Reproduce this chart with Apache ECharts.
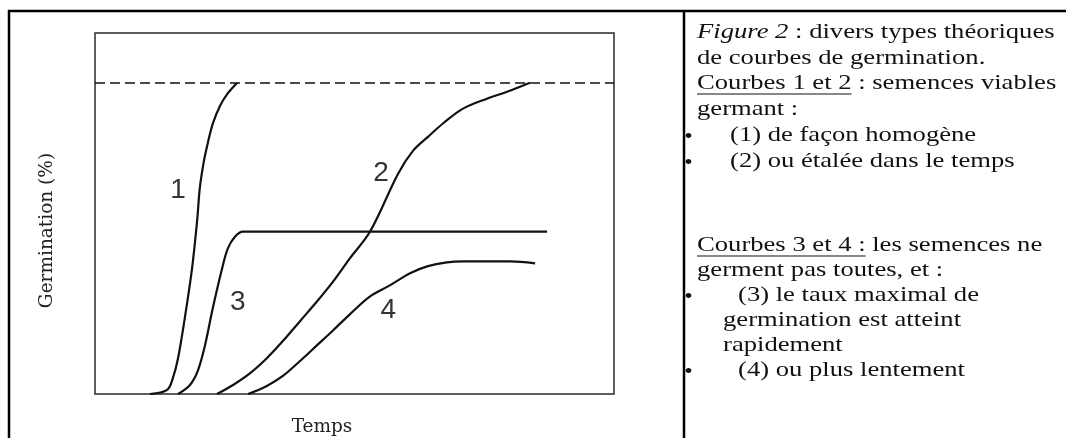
<!DOCTYPE html>
<html>
<head>
<meta charset="utf-8">
<title>Courbes de germination</title>
<script src="https://cdn.jsdelivr.net/npm/echarts@6/dist/echarts.min.js"></script>
<style>
  html, body { margin: 0; padding: 0; background: #fff; }
  #main { width: 1066px; height: 438px; }
</style>
</head>
<body>
<div id="main"></div>
<script>
// courbe 1 : germination homogene
var temps1 = [10.6, 13.9, 15.0, 16.0, 17.3, 18.7, 19.7, 20.2, 21.0, 21.8, 22.7, 24.1, 25.4, 27.4];
var germ1  = [0, 1.3, 5.1, 11.5, 24.4, 40.4, 56.1, 66.3, 75.0, 81.1, 86.9, 92.6, 96.2, 100];
// courbe 2 : germination etalee
var temps2 = [23.5, 26.6, 29.9, 33.1, 36.2, 39.5, 42.8, 45.9, 49.1, 53.0, 58.4, 61.3, 64.2, 67.1, 70.9, 75.5, 79.4, 83.8];
var germ2  = [0, 2.9, 6.7, 11.5, 17.0, 23.4, 29.8, 36.2, 43.6, 52.2, 70.8, 78.2, 82.7, 87.0, 91.7, 94.9, 97.1, 100];
// courbe 3 : plateau atteint vite
var temps3 = [16.0, 18.3, 19.8, 21.2, 22.7, 24.5, 25.6, 27.0, 28.5, 30.4, 87.1];
var germ3  = [0, 2.9, 7.4, 15.7, 27.6, 40.4, 46.8, 50.6, 52.2, 52.2, 52.2];
// courbe 4 : plateau atteint lentement
var temps4 = [29.5, 33.1, 36.2, 39.5, 42.8, 45.9, 49.1, 53.0, 56.8, 60.7, 64.0, 67.8, 70.9, 80.0, 84.8];
var germ4  = [0, 2.6, 5.8, 10.6, 15.7, 20.5, 25.6, 31.4, 34.9, 38.8, 41.0, 42.3, 42.6, 42.6, 42.0];

// numeros des courbes
var numNames = ['1', '2', '3', '4'];
var numTemps = [16.0, 55.1, 27.5, 56.5];
var numGerm  = [65.5, 70.8, 29.5, 26.9];

var maxGerm = 100;

// texte de la legende a droite
var noteHaut = [
  '{i|Figure 2} : divers types théoriques',
  'de courbes de germination.',
  'Courbes 1 et 2',
  'germant :',
  '(1) de façon homogène',
  '(2) ou étalée dans le temps'
];
var noteBas = [
  'Courbes 3 et 4 :',
  'germent pas toutes, et :',
  '(3) le taux maximal de',
  'germination est atteint',
  'rapidement',
  '(4) ou plus lentement'
];

function zip(a, b) {
  return a.map(function (v, i) { return [v, b[i]]; });
}

var chart = echarts.init(document.getElementById('main'));

var serif = 'Liberation Serif';
var fs = 22;
var sx = 1.21;
var ctx = document.createElement('canvas').getContext('2d');
ctx.font = fs + 'px "' + serif + '"';
function w(t) { return ctx.measureText(t).width; }

function curve(name, t, g, extra) {
  var s = {
    name: name,
    type: 'line',
    data: zip(t, g),
    showSymbol: false,
    smooth: 0.35,
    lineStyle: { color: '#111', width: 2.2 },
    silent: true
  };
  return Object.assign(s, extra || {});
}

// lignes du texte de droite (centre des lignes en px)
var yHaut = [32, 58, 83, 109, 135, 161];
var yBas = [245, 270, 295, 320, 345, 370];
var txt = function (t, x, y) {
  return {
    type: 'text',
    style: {
      text: t, x: x, y: y, fontFamily: serif, fontSize: fs, fill: '#111',
      verticalAlign: 'middle',
      rich: { i: { fontStyle: 'italic', fontSize: fs, fontFamily: serif, fill: '#111' } }
    }
  };
};
var bullet = function (y) {
  return { type: 'text', style: { text: '•', x: -7, y: y + 3, fontFamily: serif, fontSize: 20, fill: '#111', align: 'center', verticalAlign: 'middle' } };
};
var uline = function (x1, x2, y) {
  return { type: 'line', shape: { x1: x1, y1: y, x2: x2, y2: y }, style: { stroke: '#111', lineWidth: 1.2 } };
};

var noteChildren = [
  txt(noteHaut[0], 0, yHaut[0]),
  txt(noteHaut[1], 0, yHaut[1]),
  txt(noteHaut[2] + ' : semences viables', 0, yHaut[2]),
  uline(0, w(noteHaut[2]), yHaut[2] + 11),
  txt(noteHaut[3], 0, yHaut[3]),
  bullet(yHaut[4]), txt(noteHaut[4], 27.3, yHaut[4]),
  bullet(yHaut[5]), txt(noteHaut[5], 27.3, yHaut[5]),
  txt(noteBas[0] + ' les semences ne', 0, yBas[0]),
  uline(0, w(noteBas[0]), yBas[0] + 11),
  txt(noteBas[1], 0, yBas[1]),
  bullet(yBas[2]), txt(noteBas[2], 33.9, yBas[2]),
  txt(noteBas[3], 21.5, yBas[3]),
  txt(noteBas[4], 21.5, yBas[4]),
  bullet(yBas[5]), txt(noteBas[5], 33.9, yBas[5])
];

var option = {
  backgroundColor: '#fff',
  animation: false,
  grid: {
    left: 95, top: 33, width: 519, height: 361,
    outerBoundsMode: 'none',
    show: true, borderColor: '#2a2a2a', borderWidth: 1.5
  },
  xAxis: {
    type: 'value', min: 0, max: 100,
    name: 'Temps', nameLocation: 'middle', nameGap: 24,
    nameTextStyle: { fontFamily: 'DejaVu Serif', fontSize: 18.5, color: '#222', padding: [0, 65, 0, 0] },
    axisLine: { show: false }, axisTick: { show: false }, axisLabel: { show: false }, splitLine: { show: false }
  },
  yAxis: {
    type: 'value', min: 0, max: 116,
    name: 'Germination (%)', nameLocation: 'middle', nameGap: 38,
    nameTextStyle: { fontFamily: 'DejaVu Serif', fontSize: 18.5, color: '#222', padding: [0, 34, 0, 0] },
    axisLine: { show: false }, axisTick: { show: false }, axisLabel: { show: false }, splitLine: { show: false }
  },
  series: [
    curve('1', temps1, germ1, {
      markLine: {
        silent: true, symbol: ['none', 'none'], label: { show: false },
        lineStyle: { type: [10, 5], color: '#111', width: 1.5 },
        data: [{ yAxis: maxGerm }]
      }
    }),
    curve('2', temps2, germ2),
    curve('3', temps3, germ3),
    curve('4', temps4, germ4),
    {
      type: 'scatter',
      symbolSize: 0,
      silent: true,
      data: numNames.map(function (n, i) { return { name: n, value: [numTemps[i], numGerm[i]] }; }),
      label: {
        show: true, position: 'inside', formatter: '{b}',
        fontFamily: 'Liberation Sans', fontSize: 28, color: '#000'
      }
    }
  ],
  graphic: [
    // cadre du tableau
    { type: 'line', shape: { x1: 8, y1: 11, x2: 1066, y2: 11 }, style: { stroke: '#000', lineWidth: 2.5 } },
    { type: 'line', shape: { x1: 9, y1: 10, x2: 9, y2: 438 }, style: { stroke: '#000', lineWidth: 2.5 } },
    { type: 'line', shape: { x1: 684, y1: 10, x2: 684, y2: 438 }, style: { stroke: '#000', lineWidth: 2.5 } },
    { type: 'group', x: 697, y: 0, scaleX: sx, children: noteChildren }
  ]
};

chart.setOption(option);
</script>
</body>
</html>
